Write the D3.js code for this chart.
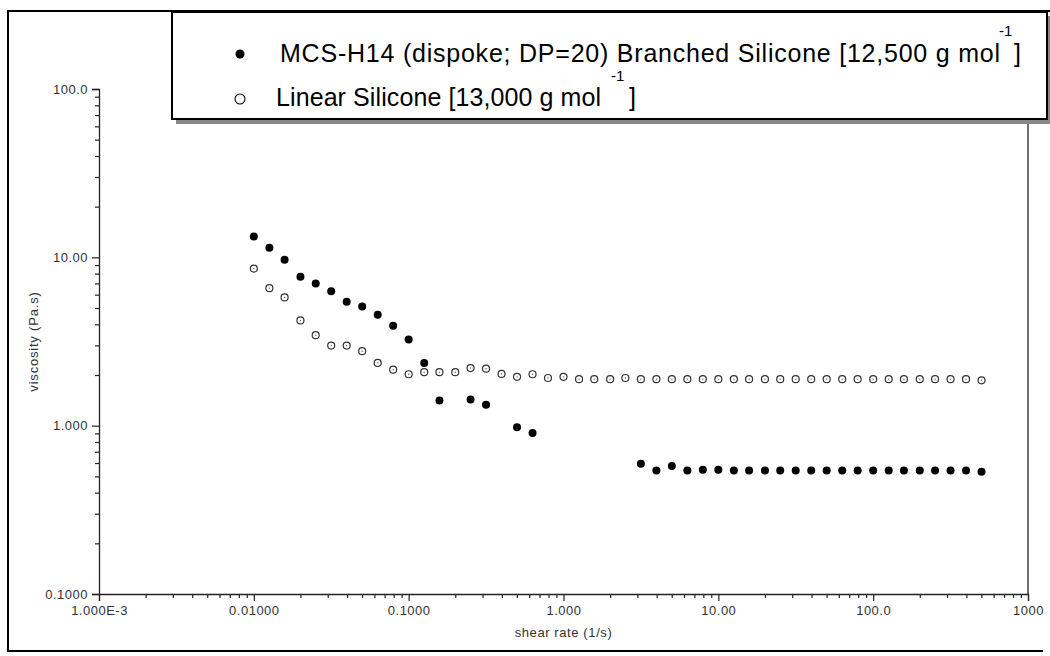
<!DOCTYPE html>
<html><head><meta charset="utf-8">
<script src="https://cdn.jsdelivr.net/npm/d3@7"></script>
<style>body{margin:0;background:#fff}svg{display:block}</style>
</head><body>
<svg id="chart" width="1050" height="656"></svg>
<script>
// ---- data ----
const branchedShear = [0.01,0.0126,0.0158,0.02,0.0251,0.0316,0.0398,0.0501,0.0631,0.0794,0.1,0.126,0.158,0.251,0.316,0.501,0.631,
  3.16,3.98,5.01,6.31,7.94,10,12.6,15.8,20,25.1,31.6,39.8,50.1,63.1,79.4,100,126,158,200,251,316,398,501];
const branchedVisc = [13.3,11.4,9.69,7.67,7.0,6.28,5.45,5.11,4.56,3.92,3.25,2.36,1.41,1.43,1.33,0.98,0.905,
  0.594,0.542,0.575,0.542,0.547,0.547,0.542,0.542,0.542,0.542,0.542,0.542,0.542,0.542,0.542,0.542,0.542,0.542,0.542,0.542,0.542,0.542,0.532];
const linearShear = [0.01,0.0126,0.0158,0.02,0.0251,0.0316,0.0398,0.0501,0.0631,0.0794,0.1,0.126,0.158,0.2,0.251,0.316,0.398,0.501,0.631,0.794,
  1,1.26,1.58,2,2.51,3.16,3.98,5.01,6.31,7.94,10,12.6,15.8,20,25.1,31.6,39.8,50.1,63.1,79.4,100,126,158,200,251,316,398,501];
const linearVisc = [8.57,6.56,5.78,4.22,3.45,2.99,2.99,2.77,2.36,2.15,2.02,2.08,2.08,2.08,2.2,2.18,2.03,1.95,2.02,1.92,
  1.95,1.89,1.89,1.89,1.92,1.89,1.89,1.89,1.89,1.89,1.89,1.89,1.89,1.89,1.89,1.89,1.89,1.89,1.89,1.89,1.89,1.89,1.89,1.89,1.89,1.89,1.89,1.86];
const xTickValues = [0.001,0.01,0.1,1,10,100,1000];
const xTickLabels = ["1.000E-3","0.01000","0.1000","1.000","10.00","100.0","1000"];
const yTickValues = [0.1,1,10,100];
const yTickLabels = ["0.1000","1.000","10.00","100.0"];
const legendLabels = ["MCS-H14 (dispoke; DP=20) Branched Silicone [12,500 g mol","Linear Silicone [13,000 g mol"];
const xTitle = "shear rate (1/s)";
const yTitle = "viscosity (Pa.s)";

// ---- layout ----
const svg = d3.select("#chart");
const L = 99, R = 1028, T = 89, B = 594;
const x = d3.scaleLog().domain([0.001,1000]).range([L,R]);
const y = d3.scaleLog().domain([0.1,100]).range([B,T]);
const ff = "Liberation Sans, Arial, sans-serif";

// outer frame
svg.append("path").attr("d","M1043,651 H8 V11 H1050").attr("fill","none").attr("stroke","#000").attr("stroke-width",2);

function minors(lo, hi){const m=[];for(let e=Math.log10(lo);e<Math.log10(hi);e++){for(let k=2;k<=9;k++)m.push(k*Math.pow(10,e));}return m;}

const tickColor="#222", labColor="#333";
const xAxisG = svg.append("g").attr("transform",`translate(0,${B})`);
xAxisG.call(d3.axisBottom(x).tickValues(xTickValues).tickFormat((d,i)=>xTickLabels[i]).tickSize(7).tickPadding(4));
const xMinorG = svg.append("g").attr("transform",`translate(0,${B})`);
xMinorG.call(d3.axisBottom(x).tickValues(minors(0.001,1000)).tickFormat("").tickSize(4));
const yAxisG = svg.append("g").attr("transform",`translate(${L},0)`);
yAxisG.call(d3.axisLeft(y).tickValues(yTickValues).tickFormat((d,i)=>yTickLabels[i]).tickSize(7).tickPadding(4));
const yMinorG = svg.append("g").attr("transform",`translate(${L},0)`);
yMinorG.call(d3.axisLeft(y).tickValues(minors(0.1,100)).tickFormat("").tickSize(4));
[xAxisG,xMinorG,yAxisG,yMinorG].forEach(g=>{
  g.select(".domain").attr("stroke",tickColor).attr("stroke-width",1.3);
  g.selectAll(".tick line").attr("stroke",tickColor).attr("stroke-width",1.2);
  g.selectAll(".tick text").attr("fill",labColor).attr("font-family",ff).attr("font-size",13).attr("letter-spacing","0.5px");
});
xMinorG.select(".domain").remove(); yMinorG.select(".domain").remove();
xAxisG.selectAll(".tick text").attr("dy","0.8em");
svg.append("line").attr("x1",R).attr("x2",R).attr("y1",T).attr("y2",B).attr("stroke",tickColor).attr("stroke-width",1.3);

// axis titles
svg.append("text").attr("x",x(1)).attr("y",637).attr("text-anchor","middle")
  .attr("font-family",ff).attr("font-size",13).attr("letter-spacing","0.6px").attr("fill",labColor).text(xTitle);
svg.append("text").attr("transform",`translate(38,${y(3.16)}) rotate(-90)`).attr("text-anchor","middle")
  .attr("font-family",ff).attr("font-size",13).attr("letter-spacing","0.8px").attr("fill",labColor).text(yTitle);

// data
const branched = branchedShear.map((s,i)=>({s,v:branchedVisc[i]}));
const linear = linearShear.map((s,i)=>({s,v:linearVisc[i]}));
svg.append("g").selectAll("circle").data(linear).join("circle")
  .attr("cx",d=>x(d.s)).attr("cy",d=>y(d.v)).attr("r",3.5)
  .attr("fill","#fff").attr("stroke","#333").attr("stroke-width",1.2);
svg.append("g").selectAll("circle").data(linear).join("circle")
  .attr("cx",d=>x(d.s)).attr("cy",d=>y(d.v)).attr("r",0.7).attr("fill","#555");
svg.append("g").selectAll("circle").data(branched).join("circle")
  .attr("cx",d=>x(d.s)).attr("cy",d=>y(d.v)).attr("r",4).attr("fill","#000");

// legend
const lg = svg.append("g");
lg.append("rect").attr("x",176).attr("y",16).attr("width",874).attr("height",108).attr("fill","#888");
lg.append("rect").attr("x",172).attr("y",12).attr("width",875).attr("height",107).attr("fill","#fff").attr("stroke","#000").attr("stroke-width",2);
lg.append("circle").attr("cx",240).attr("cy",54).attr("r",4.5).attr("fill","#000");
lg.append("circle").attr("cx",240).attr("cy",99).attr("r",5).attr("fill","#fff").attr("stroke","#000").attr("stroke-width",1.1);
const legSpec = [
  {x:280, y:62, w:720, supY:36, supX:999, brX:1014},
  {x:276, y:106, w:325, supY:81, supX:611, brX:629}
];
legSpec.forEach((s,i)=>{
  lg.append("text").attr("x",s.x).attr("y",s.y).attr("font-family",ff).attr("font-size",25)
    .attr("textLength",s.w).attr("lengthAdjust","spacing").attr("fill","#000").text(legendLabels[i]);
  lg.append("text").attr("x",s.supX).attr("y",s.supY).attr("font-family",ff).attr("font-size",15).attr("fill","#000").text("-1");
  lg.append("text").attr("x",s.brX).attr("y",s.y).attr("font-family",ff).attr("font-size",25).attr("fill","#000").text("]");
});
</script>
</body></html>
